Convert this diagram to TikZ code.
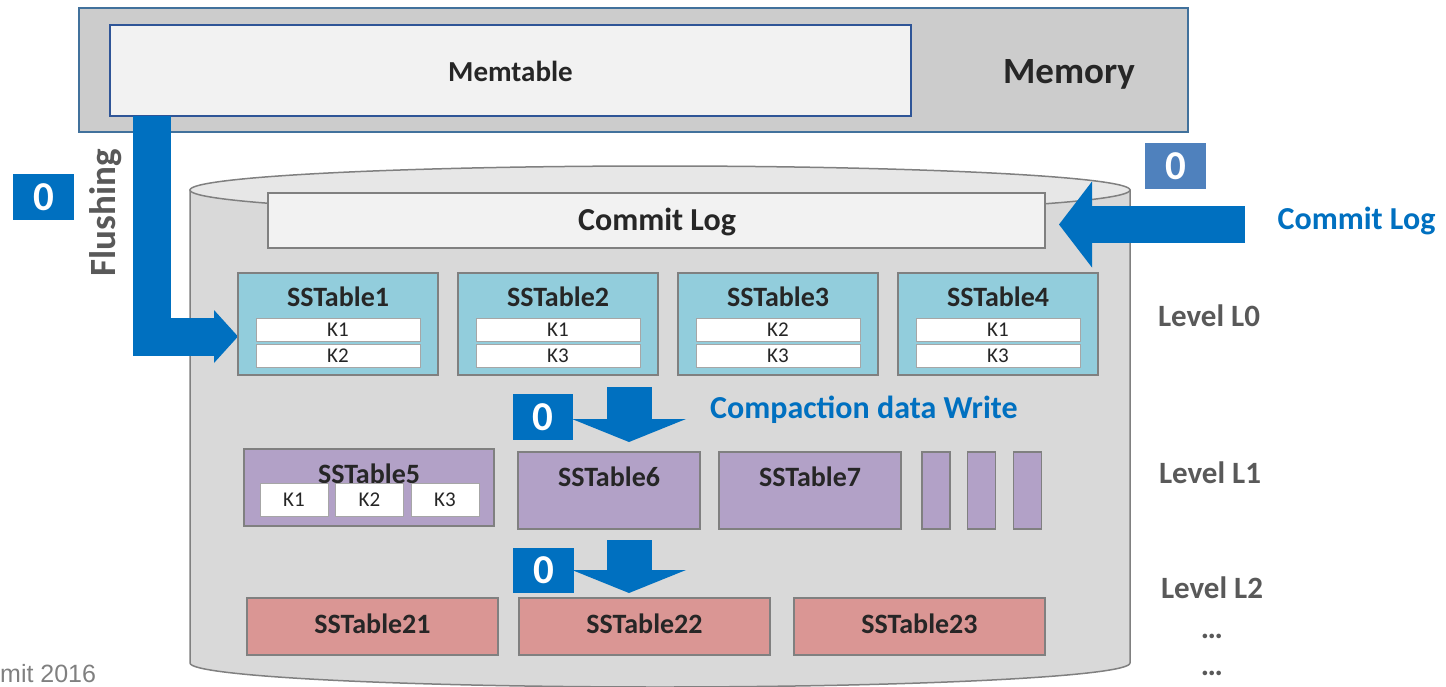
\documentclass[tikz,border=0pt]{standalone}
\usepackage{fontspec}
\setmainfont{Carlito}
\newfontfamily\arialfam{Liberation Sans}
\usetikzlibrary{arrows.meta}
\newcommand\fsz[1]{\fontsize{#1}{#1}\selectfont}
\definecolor{memfill}{RGB}{204,204,204}
\definecolor{memborder}{RGB}{65,113,156}
\definecolor{mtfill}{RGB}{242,242,242}
\definecolor{mtborder}{RGB}{47,85,151}
\definecolor{cylbody}{RGB}{217,217,217}
\definecolor{cyltop}{RGB}{231,231,231}
\definecolor{cylline}{RGB}{128,128,128}
\definecolor{bblue}{RGB}{0,112,192}
\definecolor{sblue}{RGB}{79,129,189}
\definecolor{lzero}{RGB}{146,205,220}
\definecolor{lone}{RGB}{178,161,199}
\definecolor{ltwo}{RGB}{218,150,148}
\definecolor{boxline}{RGB}{128,128,128}
\definecolor{keyline}{RGB}{166,166,166}
\definecolor{txtc}{RGB}{38,38,38}
\definecolor{lvlc}{RGB}{89,89,89}
\definecolor{footc}{RGB}{128,128,128}
\begin{document}
\begin{tikzpicture}[x=1pt,y=-1pt,
  l0box/.style={draw=boxline, line width=1.5pt, fill=lzero, minimum width=200pt, minimum height=102pt, inner sep=0pt},
  keyrow/.style={draw=keyline, line width=1pt, fill=white, minimum width=164pt, minimum height=23pt, inner sep=0pt, font=\fsz{21}, text=txtc},
  keycell/.style={draw=keyline, line width=1pt, fill=white, minimum width=68pt, minimum height=33pt, inner sep=0pt, font=\fsz{21}, text=txtc},
  l1box/.style={draw=boxline, line width=1.5pt, fill=lone, minimum height=77pt, inner sep=0pt},
  l2box/.style={draw=boxline, line width=1.5pt, fill=ltwo, minimum width=251pt, minimum height=57pt, inner sep=0pt},
  title/.style={inner sep=0pt, anchor=base, font=\bfseries\fsz{28}, text=txtc},
  zerobox/.style={fill=#1, minimum width=61pt, minimum height=46pt, inner sep=0pt, text=white, font=\bfseries\fsz{41}},
  flowarrow/.style={draw=bblue, line width=38pt, line join=miter, -{Triangle[length=24pt, width=53pt, line width=0pt]}},
  cmparrow/.style={draw=bblue, line width=45pt, -{Triangle[length=23pt, width=114pt, line width=0pt]}},
  logarrow/.style={draw=bblue, line width=37pt, -{Triangle[length=33pt, width=86pt, line width=0pt]}},
  lvl/.style={inner sep=0pt, anchor=base, text=lvlc, font=\bfseries\fsz{31}},
  bluelbl/.style={inner sep=0pt, text=bblue, font=\bfseries\fsz{32}},
]
\useasboundingbox (0,0) rectangle (1446,686);
\clip (0,0) rectangle (1446,686);

% Memory
\node[draw=memborder, line width=2pt, fill=memfill, minimum width=1109pt, minimum height=124pt, inner sep=0pt] (memory) at (633.5,70) {};
\node[inner sep=0pt, anchor=base, text=txtc, font=\bfseries\fsz{37}] (memlbl) at (1069,83) {Memory};
\node[draw=mtborder, line width=2pt, fill=mtfill, minimum width=801pt, minimum height=91pt, inner sep=0pt] (memtable) at (510.5,70.5) {};
\node[inner sep=0pt, anchor=base, text=txtc, font=\bfseries\fsz{29}] (mtlbl) at (510.5,81.5) {Memtable};

% Cylinder (disk)
\draw[draw=cylline, line width=1.5pt, fill=cylbody] (190,190) -- (190,663) arc[start angle=180, end angle=0, x radius=470, y radius=24] -- (1130,190) -- cycle;
\draw[draw=cylline, line width=1.5pt, fill=cyltop] (660,190) ellipse[x radius=470, y radius=24];

% Commit log
\node[draw=cylline, line width=1.5pt, fill=mtfill, minimum width=777pt, minimum height=55pt, inner sep=0pt] (commitlog) at (656.5,220.5) {};
\node[inner sep=0pt, anchor=base, text=txtc, font=\bfseries\fsz{32}] (cllbl) at (657,230.5) {Commit Log};

\coordinate (cstart) at (1245,224.5);
\coordinate (ctip) at (1059,224.5);
\draw[logarrow] (cstart) -- (ctip);
\node[bluelbl, anchor=base] (clblue) at (1356.5,229) {Commit Log};
\node[zerobox=sblue] (z2) at (1175.5,166) {0};

% Flushing
\coordinate (fstart) at (152,116);
\coordinate (ftip) at (238,336.5);
\draw[flowarrow] (fstart) |- (ftip);
\node[zerobox=bblue] (z1) at (43.5,197) {0};
\node[inner sep=0pt, anchor=base, rotate=90, text=lvlc, font=\bfseries\fsz{37}] (flush) at (115,213) {Flushing};

% Level L0
\foreach \i/\n/\ka/\kb in {0/1/K1/K2, 1/2/K1/K3, 2/3/K2/K3, 3/4/K1/K3} {
  \node[l0box] (ss\n) at (338+220*\i,324) {};
  \node[title] (ss\n t) at (338+220*\i,306.5) {SSTable\n};
  \node[keyrow] (ss\n a) at (338+220*\i,329.5) {\ka};
  \node[keyrow] (ss\n b) at (338+220*\i,355.5) {\kb};
}
\node[lvl] (lvl0) at (1209,326) {Level L0};

% Compaction arrow 1
\coordinate (c1s) at (629,387);
\coordinate (c1e) at (629,442);
\draw[cmparrow] (c1s) -- (c1e);
\node[zerobox=bblue, minimum width=60pt] (z3) at (543,417) {0};
\node[bluelbl, anchor=base west] (cdw) at (710,418) {Compaction data Write};

% Level L1
\node[l1box, minimum width=250pt] (ss5) at (369,487.5) {};
\node[title] (ss5t) at (369,483) {SSTable5};
\node[keycell] (ss5a) at (294,499.5) {K1};
\node[keycell] (ss5b) at (369.5,499.5) {K2};
\node[keycell] (ss5c) at (445,499.5) {K3};
\node[l1box, minimum width=182pt] (ss6) at (609,490.5) {};
\node[title] (ss6t) at (609,486.7) {SSTable6};
\node[l1box, minimum width=182pt] (ss7) at (810,490.5) {};
\node[title] (ss7t) at (810,486.7) {SSTable7};
\node[l1box, minimum width=28pt] (ss8) at (936,490.5) {};
\node[l1box, minimum width=28pt] (ss9) at (981.5,490.5) {};
\node[l1box, minimum width=28pt] (ss10) at (1027.5,490.5) {};
\node[lvl] (lvl1) at (1210,483) {Level L1};

% Compaction arrow 2
\coordinate (c2s) at (629,540);
\coordinate (c2e) at (629,593);
\draw[cmparrow] (c2s) -- (c2e);
\node[zerobox=bblue, minimum height=45pt] (z4) at (543.5,570.5) {0};

% Level L2
\node[l2box] (ss21) at (372.5,626.5) {};
\node[title] (ss21t) at (372.5,633.3) {SSTable21};
\node[l2box] (ss22) at (644.5,626.5) {};
\node[title] (ss22t) at (644.5,633.3) {SSTable22};
\node[l2box] (ss23) at (919.5,626.5) {};
\node[title] (ss23t) at (919.5,633.3) {SSTable23};
\node[lvl] (lvl2) at (1212,598) {Level L2};
\node[lvl] (dots1) at (1212,638) {…};
\node[lvl] (dots2) at (1212,675) {…};

% footer
\node[inner sep=0pt, anchor=base west, text=footc, font=\arialfam\fsz{25}] (foot) at (0,682) {mit 2016};
\end{tikzpicture}
\end{document}
